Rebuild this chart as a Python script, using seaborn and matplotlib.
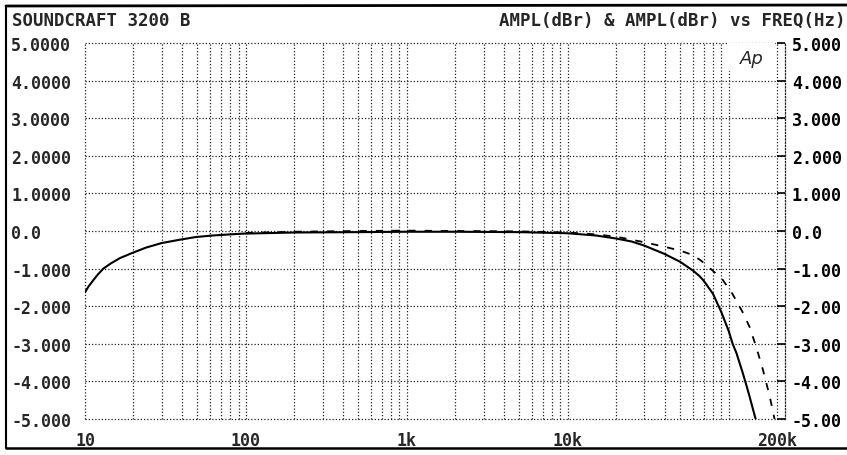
import matplotlib
matplotlib.use("Agg")
import matplotlib.pyplot as plt
import seaborn as sns
import numpy as np
import pandas as pd
from matplotlib.patches import Rectangle
from matplotlib.lines import Line2D

# ---- data ----
freq_solid = [10, 10.5, 11.3, 12, 13, 14.5, 16.5, 19.5, 24, 30, 39, 49, 62, 80, 96,
              200, 500, 1000, 2000, 5000, 10000, 15000, 20000, 25000, 30000, 40000,
              50000, 60000, 66000, 70000, 80000, 90000, 100000, 106000, 112000,
              122000, 129000, 135000, 142000, 149000]
ampl_solid = [-1.63, -1.48, -1.3, -1.16, -1.0, -0.86, -0.72, -0.59, -0.44, -0.32,
              -0.23, -0.16, -0.12, -0.09, -0.07, -0.04, -0.03, -0.02, -0.02, -0.03,
              -0.06, -0.12, -0.2, -0.28, -0.39, -0.61, -0.82, -1.05, -1.2, -1.32,
              -1.67, -2.15, -2.65, -3.0, -3.25, -3.75, -4.1, -4.4, -4.75, -5.08]

freq_dash = [100, 200, 500, 1000, 2000, 5000, 10000, 15000, 20000, 30000, 40000,
             50000, 60000, 68000, 80000, 92000, 106000, 122000, 135000, 149000,
             163000, 180000, 193000]
ampl_dash = [-0.05, -0.02, 0.0, 0.01, 0.0, -0.01, -0.04, -0.09, -0.15, -0.3, -0.42,
             -0.52, -0.64, -0.8, -1.06, -1.3, -1.68, -2.15, -2.55, -3.1,
             -3.67, -4.39, -5.0]

y_ticks = [5, 4, 3, 2, 1, 0, -1, -2, -3, -4, -5]
left_labels = ["5.0000", "4.0000", "3.0000", "2.0000", "1.0000", "0.0",
               "-1.000", "-2.000", "-3.000", "-4.000", "-5.000"]
right_labels = ["5.000", "4.000", "3.000", "2.000", "1.000", "0.0",
                "-1.00", "-2.00", "-3.00", "-4.00", "-5.00"]
x_label_pos = [10, 100, 1000, 10000, 200000]
x_labels = ["10", "100", "1k", "10k", "200k"]
x_grid = [m * 10 ** e for e in range(1, 5) for m in range(1, 10)] + [100000, 200000]

title_left = "SOUNDCRAFT 3200 B"
title_right = "AMPL(dBr) & AMPL(dBr) vs FREQ(Hz)"

# ---- style ----
sns.set_style("white")
plt.rcParams["font.family"] = ["DejaVu Sans Mono", "DejaVu Sans"]
plt.rcParams["font.weight"] = "bold"

W, H = 847, 456
fig = plt.figure(figsize=(W / 100, H / 100), dpi=100)
L, R, T, B = 85, 785, 44, 420
ax = fig.add_axes([L / W, 1 - B / H, (R - L) / W, (B - T) / H])

df_s = pd.DataFrame({"f": freq_solid, "a": ampl_solid})
df_d = pd.DataFrame({"f": freq_dash, "a": ampl_dash})
sns.lineplot(data=df_s, x="f", y="a", ax=ax, color="black", linewidth=1.5,
             estimator=None, sort=True)
sns.lineplot(data=df_d, x="f", y="a", ax=ax, color="black", linewidth=1.3,
             estimator=None, sort=True)
ax.lines[1].set_dashes((4, 5))

ax.set_xscale("log")
x_right = 200000 * 10 ** ((R - 777) / 161)
ax.set_xlim(10, x_right)
ax.set_ylim(-5, 5)
ax.set_xlabel("")
ax.set_ylabel("")

# grid
gkw = dict(color="#222222", linewidth=0.9, linestyle=(0, (1, 1.6)), zorder=0.5)
for xv in x_grid:
    ax.axvline(xv, clip_on=False, **gkw)
for yv in y_ticks:
    ax.axhline(yv, clip_on=False, **gkw)

# ticks / labels
ax.set_xticks(x_label_pos)
ax.xaxis.set_minor_locator(matplotlib.ticker.NullLocator())
ax.set_xticklabels(x_labels, fontsize=12, fontweight="bold")
ax.tick_params(axis="x", length=0, pad=9)

ax.set_yticks(y_ticks)
ax.set_yticklabels(left_labels, fontsize=12, fontweight="bold")
for lab in ax.get_yticklabels():
    lab.set_horizontalalignment("left")
ax.tick_params(axis="y", left=True, length=0, pad=(L - 11) * 0.72)

ax2 = ax.twinx()
ax2.set_ylim(-5, 5)
ax2.set_yticks(y_ticks)
ax2.set_yticklabels(right_labels, fontsize=12, fontweight="bold")
ax2.tick_params(axis="y", direction="in", length=(R - 777) * 0.72, width=1.2,
                pad=5, colors="black")
for sp in ["left", "top", "bottom"]:
    ax.spines[sp].set_visible(False)
    ax2.spines[sp].set_visible(False)
ax.spines["right"].set_visible(False)
ax2.spines["right"].set_linestyle((0, (1, 1.6)))
ax2.spines["right"].set_linewidth(0.9)
ax2.spines["right"].set_color("#222222")
ax2.grid(False)
ax.grid(False)

# "Ap" box
ax.add_patch(Rectangle(((727 - L) / (R - L), 1 - (72 - T) / (B - T)),
                       (777 - 727) / (R - L) - 0.003, (72 - T) / (B - T),
                       transform=ax.transAxes, facecolor="white", edgecolor="none",
                       zorder=1, clip_on=False))
ax.text(752 / W, 1 - 59 / H, "Ap", transform=fig.transFigure, fontsize=13,
        fontstyle="italic", fontweight="normal", family="DejaVu Sans",
        ha="center", va="center", zorder=5)

# titles
fig.text(12 / W, 1 - 21 / H, title_left, ha="left", va="center",
         fontsize=12.5, fontweight="bold")
fig.text(845 / W, 1 - 21 / H, title_right, ha="right", va="center",
         fontsize=12.5, fontweight="bold")

# scanned border frame
fig.add_artist(Line2D([6 / W, 6 / W], [1 - 7 / H, 1 - 449 / H],
                      transform=fig.transFigure, color="black", linewidth=1.5))
fig.add_artist(Line2D([6 / W, 1.0], [1 - 7 / H, 1 - 6 / H],
                      transform=fig.transFigure, color="black", linewidth=2))
fig.add_artist(Line2D([6 / W, 1.0], [1 - 449 / H, 1 - 449 / H],
                      transform=fig.transFigure, color="black", linewidth=1.8))

fig.savefig("out.png", dpi=100)
